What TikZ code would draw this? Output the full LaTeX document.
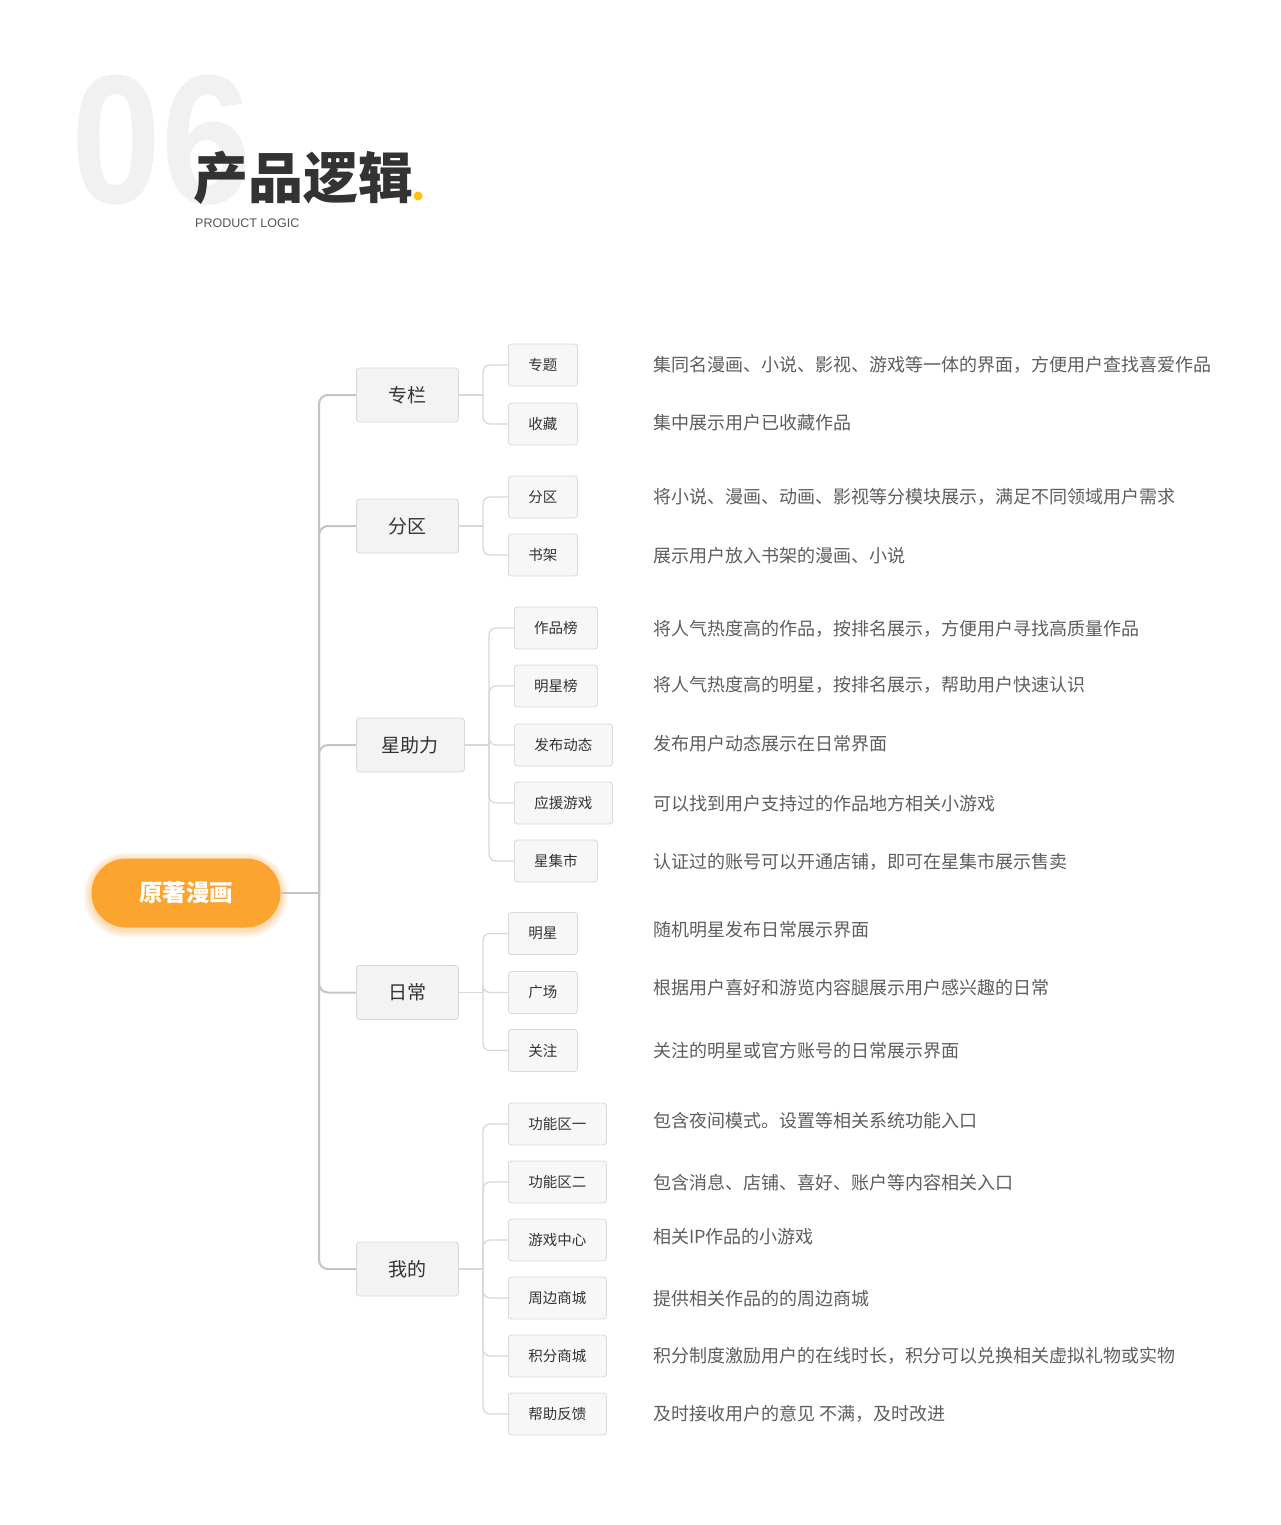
\documentclass[tikz,border=0pt]{standalone}
\usepackage{fontspec}
\setmainfont{Noto Sans CJK SC}
\newfontfamily\latinf{Liberation Sans}
\definecolor{bgnum}{HTML}{F1F1F1}
\definecolor{titlec}{HTML}{333333}
\definecolor{dotc}{HTML}{FFC20E}
\definecolor{subc}{HTML}{555555}
\definecolor{rootc}{HTML}{FCA430}
\definecolor{trunkc}{HTML}{C4C4C4}
\definecolor{twigc}{HTML}{D8D8D8}
\definecolor{lonefill}{HTML}{F3F3F3}
\definecolor{lonebdr}{HTML}{D9D9D9}
\definecolor{leaffill}{HTML}{F7F7F7}
\definecolor{leafbdr}{HTML}{D9D9D9}
\definecolor{txtdark}{HTML}{333333}
\definecolor{descc}{HTML}{5E5E5E}
\begin{document}
\begin{tikzpicture}[x=1pt,y=-1pt,
  rootbox/.style={fill=rootc, rounded corners=34.5pt, minimum width=189pt, minimum height=69pt, inner sep=0pt, text=white, font=\bfseries\fontsize{23.5}{23.5}\selectfont},
  lone/.style={draw=lonebdr, line width=0.8pt, fill=lonefill, rounded corners=3pt, minimum height=54pt, inner sep=0pt, anchor=west, text=txtdark, font=\fontsize{19}{19}\selectfont},
  leaf/.style={draw=leafbdr, line width=0.8pt, fill=leaffill, rounded corners=3pt, minimum height=42pt, inner sep=0pt, anchor=west, text=txtdark, font=\fontsize{14.5}{14.5}\selectfont},
  desc/.style={anchor=west, inner sep=0pt, text=descc, font=\fontsize{18}{18}\selectfont},
  trunk/.style={draw=trunkc, line width=2pt, rounded corners=9pt},
  twig/.style={draw=twigc, line width=1.3pt, rounded corners=7pt}
]
\useasboundingbox[fill=white] (0,0) rectangle (1280,1525);

% title
\node[anchor=base west, inner sep=0pt, text depth=0pt, text=bgnum, xscale=0.88, font=\latinf\bfseries\fontsize{184}{184}\selectfont] (num) at (71,204) {06};
\node[anchor=base west, inner sep=0pt, text=titlec, font=\bfseries\fontsize{55}{55}\selectfont] (title) at (193,198) {产品逻辑};
\fill[dotc] (418,196) circle (4.5pt);
\node[anchor=base west, inner sep=0pt, text=subc, font=\latinf\fontsize{12.5}{12.5}\selectfont] (sub) at (195,227) {PRODUCT LOGIC};

% root glow
\foreach \i in {1,...,8} {
  \pgfmathsetmacro{\rr}{34.5+\i}
  \fill[rootc, opacity=0.05, rounded corners=\rr pt] ({91.5-\i},{860.5-\i}) rectangle ({280.5+\i},{929.5+\i});
}
\node[rootbox] (root) at (186,893) {原著漫画};

% level 1
\node[lone, minimum width=102pt] (zl) at (356,395) {专栏};
\node[lone, minimum width=102pt] (fq) at (356,526) {分区};
\node[lone, minimum width=108pt] (xzl) at (356,745) {星助力};
\node[lone, minimum width=102pt] (rc) at (356,992.5) {日常};
\node[lone, minimum width=102pt] (wd) at (356,1269) {我的};

% trunk
\coordinate (j) at (319,893);
\draw[trunk] (root.east) -- (j);
\foreach \n in {zl,fq,xzl,rc,wd} { \draw[trunk] (j) |- (\n.west); }

% leaves: 专栏
\node[leaf, minimum width=69pt] (a1) at (508,365) {专题};
\node[leaf, minimum width=69pt] (a2) at (508,424) {收藏};
\coordinate (ja) at (483,395);
\draw[twig] (zl.east) -- (ja);
\foreach \n in {a1,a2} { \draw[twig] (ja) |- (\n.west); }

% 分区
\node[leaf, minimum width=69pt] (b1) at (508,497) {分区};
\node[leaf, minimum width=69pt] (b2) at (508,555) {书架};
\coordinate (jb) at (483,526);
\draw[twig] (fq.east) -- (jb);
\foreach \n in {b1,b2} { \draw[twig] (jb) |- (\n.west); }

% 星助力
\node[leaf, minimum width=83pt] (c1) at (514,628) {作品榜};
\node[leaf, minimum width=83pt] (c2) at (514,686) {明星榜};
\node[leaf, minimum width=98pt] (c3) at (514,745) {发布动态};
\node[leaf, minimum width=98pt] (c4) at (514,803) {应援游戏};
\node[leaf, minimum width=83pt] (c5) at (514,861) {星集市};
\coordinate (jc) at (489,745);
\draw[twig] (xzl.east) -- (jc);
\foreach \n in {c1,c2,c3,c4,c5} { \draw[twig] (jc) |- (\n.west); }

% 日常
\node[leaf, minimum width=69pt] (d1) at (508,933.5) {明星};
\node[leaf, minimum width=69pt] (d2) at (508,992.5) {广场};
\node[leaf, minimum width=69pt] (d3) at (508,1050.5) {关注};
\coordinate (jd) at (483,992.5);
\draw[twig] (rc.east) -- (jd);
\foreach \n in {d1,d2,d3} { \draw[twig] (jd) |- (\n.west); }

% 我的
\node[leaf, minimum width=98pt] (e1) at (508,1124) {功能区一};
\node[leaf, minimum width=98pt] (e2) at (508,1182) {功能区二};
\node[leaf, minimum width=98pt] (e3) at (508,1240) {游戏中心};
\node[leaf, minimum width=98pt] (e4) at (508,1298) {周边商城};
\node[leaf, minimum width=98pt] (e5) at (508,1356) {积分商城};
\node[leaf, minimum width=98pt] (e6) at (508,1414) {帮助反馈};
\coordinate (je) at (483,1269);
\draw[twig] (wd.east) -- (je);
\foreach \n in {e1,e2,e3,e4,e5,e6} { \draw[twig] (je) |- (\n.west); }

% descriptions
\node[desc] (t1) at (653,365) {集同名漫画、小说、影视、游戏等一体的界面，方便用户查找喜爱作品};
\node[desc] (t2) at (653,423) {集中展示用户已收藏作品};
\node[desc] (t3) at (653,497) {将小说、漫画、动画、影视等分模块展示，满足不同领域用户需求};
\node[desc] (t4) at (653,556) {展示用户放入书架的漫画、小说};
\node[desc] (t5) at (653,629) {将人气热度高的作品，按排名展示，方便用户寻找高质量作品};
\node[desc] (t6) at (653,685) {将人气热度高的明星，按排名展示，帮助用户快速认识};
\node[desc] (t7) at (653,744) {发布用户动态展示在日常界面};
\node[desc] (t8) at (653,804) {可以找到用户支持过的作品地方相关小游戏};
\node[desc] (t9) at (653,862) {认证过的账号可以开通店铺，即可在星集市展示售卖};
\node[desc] (t10) at (653,930) {随机明星发布日常展示界面};
\node[desc] (t11) at (653,988) {根据用户喜好和游览内容腿展示用户感兴趣的日常};
\node[desc] (t12) at (653,1051) {关注的明星或官方账号的日常展示界面};
\node[desc] (t13) at (653,1121) {包含夜间模式。设置等相关系统功能入口};
\node[desc] (t14) at (653,1183) {包含消息、店铺、喜好、账户等内容相关入口};
\node[desc] (t15) at (653,1237) {相关IP作品的小游戏};
\node[desc] (t16) at (653,1299) {提供相关作品的的周边商城};
\node[desc] (t17) at (653,1356) {积分制度激励用户的在线时长，积分可以兑换相关虚拟礼物或实物};
\node[desc] (t18) at (653,1414) {及时接收用户的意见 不满，及时改进};
\end{tikzpicture}
\end{document}
